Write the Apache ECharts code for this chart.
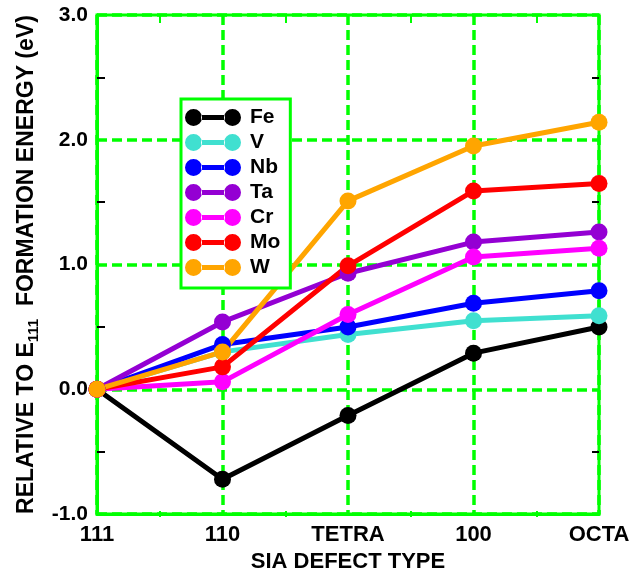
<!DOCTYPE html>
<html>
<head>
<meta charset="utf-8">
<script src="https://cdn.jsdelivr.net/npm/echarts@6/dist/echarts.min.js"></script>
<style>html,body{margin:0;padding:0;background:#fff}#c{width:633px;height:578px}</style>
</head>
<body>
<div id="c"></div>
<script>
const categories = ['111', '110', 'TETRA', '100', 'OCTA'];
const seriesNames = ['Fe', 'V', 'Nb', 'Ta', 'Cr', 'Mo', 'W'];
const colors = ['#000000', '#40e0d0', '#0000ff', '#9400d3', '#ff00ff', '#ff0000', '#ffa500'];
const Fe = [0, -0.72, -0.21, 0.29, 0.50];
const V  = [0, 0.30, 0.44, 0.55, 0.59];
const Nb = [0, 0.36, 0.50, 0.69, 0.79];
const Ta = [0, 0.54, 0.93, 1.18, 1.26];
const Cr = [0, 0.06, 0.60, 1.06, 1.13];
const Mo = [0, 0.18, 0.99, 1.59, 1.65];
const W  = [0, 0.30, 1.51, 1.95, 2.14];
const values = [Fe, V, Nb, Ta, Cr, Mo, W];
const yTicks = [-1, 0, 1, 2, 3];

const GREEN = '#00ff00';
const FONT = 'Liberation Sans, Arial, sans-serif';
const iconPath = 'path://M0,8.5a8.5,8.5 0 1,0 17,0a8.5,8.5 0 1,0 -17,0Z M39,8.5a8.5,8.5 0 1,0 17,0a8.5,8.5 0 1,0 -17,0Z M16,6L40,6L40,11L16,11Z';

const W_PX = 633, H_PX = 578;
const G = {left: 97, right: 34, top: 15, bottom: 61};
const gridW = W_PX - G.left - G.right;
const gridH = H_PX - G.top - G.bottom;

const chart = echarts.init(document.getElementById('c'), null, {renderer: 'canvas'});
// helper axes (top / left, shifted by offset) that only draw short inward minor ticks on the frame
const xTickAxis = (offset, len) => ({
  type: 'value', position: 'top', offset: offset, min: 0, max: categories.length - 1, interval: 1,
  axisLine: {show: false, onZero: false}, axisTick: {show: false}, axisLabel: {show: false}, splitLine: {show: false},
  minorTick: {show: true, splitNumber: 2, length: len, lineStyle: {color: GREEN, width: 2}},
  axisPointer: {show: false}
});
const yTickAxis = (offset, len) => ({
  type: 'value', position: 'left', offset: offset, min: yTicks[0], max: yTicks[yTicks.length - 1], interval: 1,
  axisLine: {show: false, onZero: false}, axisTick: {show: false}, axisLabel: {show: false}, splitLine: {show: false},
  minorTick: {show: true, splitNumber: 2, length: len, lineStyle: {color: '#000', width: 2}}
});

const option = {
  animation: false,
  backgroundColor: '#fff',
  grid: {left: G.left, right: G.right, top: G.top, bottom: G.bottom, containLabel: false,
         show: true, borderColor: GREEN, borderWidth: 3, backgroundColor: 'transparent'},
  legend: {
    orient: 'vertical', left: 181, top: 99,
    data: seriesNames,
    icon: iconPath, itemWidth: 56, itemHeight: 17, itemGap: 4,
    padding: [8, 10, 10, 4],
    backgroundColor: '#fff', borderColor: GREEN, borderWidth: 3, borderRadius: 0,
    textStyle: {fontFamily: FONT, fontWeight: 'bold', fontSize: 21, color: '#000', padding: [0, 0, 0, 4]}
  },
  xAxis: [
    {
      type: 'category', data: categories, boundaryGap: false, position: 'bottom',
      axisLine: {show: true, onZero: false, lineStyle: {color: GREEN, width: 3}},
      axisTick: {show: false},
      axisLabel: {color: '#000', fontFamily: FONT, fontWeight: 'bold', fontSize: 22, margin: 10, interval: 0},
      splitLine: {show: true, lineStyle: {color: GREEN, width: 3.5, type: [10, 5]}},
      name: 'SIA DEFECT TYPE', nameLocation: 'middle', nameGap: 35,
      nameTextStyle: {color: '#000', fontFamily: FONT, fontWeight: 'bold', fontSize: 22}
    },
    xTickAxis(-8, 8),        // top edge: ticks from y=top+8 up to the frame
    xTickAxis(-gridH, 6)     // bottom edge: ticks from the frame upward
  ],
  yAxis: [
    {
      type: 'value', position: 'left', min: yTicks[0], max: yTicks[yTicks.length - 1], interval: 1,
      axisLine: {show: true, onZero: false, lineStyle: {color: GREEN, width: 3}},
      axisTick: {show: false},
      axisLabel: {color: '#000', fontFamily: FONT, fontWeight: 'bold', fontSize: 21, margin: 9, formatter: v => v.toFixed(1)},
      splitLine: {show: true, lineStyle: {color: GREEN, width: 3.5, type: [10, 5]}},
      name: 'RELATIVE TO E{sub|111}  FORMATION ENERGY (eV)', nameLocation: 'middle', nameGap: 55,
      nameTextStyle: {
        color: '#000', fontFamily: FONT, fontWeight: 'bold', fontSize: 23,
        rich: {sub: {color: '#000', fontFamily: FONT, fontWeight: 'bold', fontSize: 15, padding: [14, 0, 0, 0]}}
      }
    },
    yTickAxis(-8, 8),        // left edge: ticks from x=left+8 back to the frame
    yTickAxis(-gridW, 7)     // right edge: ticks from the frame leftward
  ],
  series: seriesNames.map((n, i) => ({
    name: n, type: 'line', xAxisIndex: 0, yAxisIndex: 0,
    data: values[i], symbol: 'circle', symbolSize: 17,
    lineStyle: {color: colors[i], width: 5},
    itemStyle: {color: colors[i], borderWidth: 0},
    emphasis: {disabled: true}
  }))
};
chart.setOption(option);
</script>
</body>
</html>
